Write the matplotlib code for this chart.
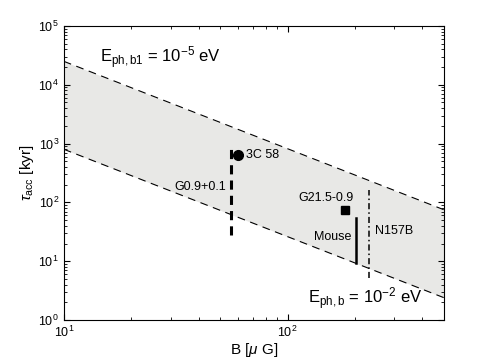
import matplotlib.pyplot as plt
import numpy as np

plt.rcParams['font.family'] = ['Liberation Sans', 'DejaVu Sans']
plt.rcParams['mathtext.fontset'] = 'custom'
plt.rcParams['mathtext.rm'] = 'Liberation Sans'
plt.rcParams['mathtext.it'] = 'Liberation Sans:italic'

# band edges (straight lines in log-log, read at the axis limits)
b_edge = [10, 500]
tau_b1 = [2.5e4, 75]     # E_ph,b1 = 1e-5 eV
tau_b = [800, 2.4]       # E_ph,b = 1e-2 eV

# sources
b_3c58, tau_3c58 = 60, 640
b_g21, tau_g21 = 180, 74
b_g09, tau_g09 = 56, [28, 850]
b_mouse, tau_mouse = 202, [9.3, 54]
b_n157, tau_n157 = 231, [5.2, 165]

fig = plt.figure(figsize=(4.91, 3.6), dpi=100, facecolor='w')
ax = fig.add_axes([0.130, 0.111, 0.774, 0.817])
ax.set_xscale('log')
ax.set_yscale('log')

ax.fill_between(b_edge, tau_b, tau_b1, color='#e8e8e6', lw=0)
ax.plot(b_edge, tau_b1, color='k', ls=(0, (7, 5)), lw=0.8)
ax.plot(b_edge, tau_b, color='k', ls=(0, (7, 5)), lw=0.8)

ax.plot([b_g09, b_g09], tau_g09, color='k', ls=(0, (3, 2)), lw=2.2)
ax.plot([b_mouse, b_mouse], tau_mouse, color='k', ls='-', lw=1.8)
ax.plot([b_n157, b_n157], tau_n157, color='k', ls=(0, (4, 2, 1, 2)), lw=1.1)
ax.plot(b_3c58, tau_3c58, 'o', color='k', ms=7)
ax.plot(b_g21, tau_g21, 's', color='k', ms=6)

ax.text(65.5, 640, '3C 58', fontsize=9, va='center', ha='left')
ax.text(53.3, 183, 'G0.9+0.1', fontsize=9, va='center', ha='right')
ax.text(148, 119, 'G21.5-0.9', fontsize=9, va='center', ha='center')
ax.text(192, 26, 'Mouse', fontsize=9, va='center', ha='right')
ax.text(246, 33, 'N157B', fontsize=9, va='center', ha='left')
ax.text(14.5, 2.9e4, r'E$_{\rm ph,b1}$ = 10$^{-5}$ eV', fontsize=12, va='center')
ax.text(124, 2.3, r'E$_{\rm ph,b}$ = 10$^{-2}$ eV', fontsize=12, va='center')

ax.set_xlim(10, 500)
ax.set_ylim(1, 1e5)
ax.set_xlabel(r'B [$\mu$ G]', fontsize=11, labelpad=1)
ax.set_ylabel(r'$\tau_{\rm acc}$ [kyr]', fontsize=11, labelpad=2)
ax.tick_params(which='both', direction='in', top=True, right=True, labelsize=9)
ax.tick_params(which='major', length=4)
ax.tick_params(which='minor', length=2)
ax.yaxis.set_major_locator(plt.LogLocator(base=10, numticks=10))
ax.yaxis.set_minor_locator(plt.LogLocator(base=10, subs=np.arange(2, 10), numticks=10))
for s in ax.spines.values():
    s.set_linewidth(0.8)

fig.savefig('out.png', dpi=100)
